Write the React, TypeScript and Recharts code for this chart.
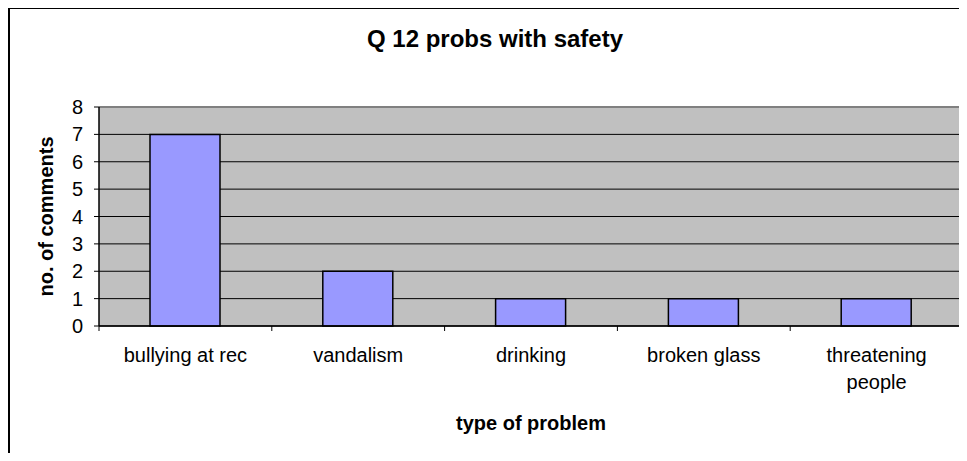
import React from "react";
import { BarChart, Bar, XAxis, YAxis, CartesianGrid } from "recharts";

const categories = ["bullying at rec", "vandalism", "drinking", "broken glass", "threatening people"];
const comments = [7, 2, 1, 1, 1];
const yTicks = [0, 1, 2, 3, 4, 5, 6, 7, 8];
const chartTitle = "Q 12 probs with safety";
const xTitle = "type of problem";
const yTitle = "no. of comments";

const data = categories.map((c, i) => ({ category: c, comments: comments[i] }));

const FONT = "'Liberation Sans', Arial, Helvetica, sans-serif";
const W = 959;
const H = 454;
const TICK_SIZE = 5;
const X_TICK_MARGIN = 17;
const MAX_CHARS = 16;

function wrapWords(label: string): string[] {
  const words = String(label).split(" ");
  const lines: string[] = [];
  let cur = "";
  for (const w of words) {
    const next = cur ? cur + " " + w : w;
    if (next.length > MAX_CHARS && cur) {
      lines.push(cur);
      cur = w;
    } else {
      cur = next;
    }
  }
  if (cur) lines.push(cur);
  return lines;
}

function CategoryTick(props: any) {
  const { x, y, payload, index, visibleTicksCount } = props;
  const n = visibleTicksCount || categories.length;
  const half =
    payload && typeof payload.offset === "number" && payload.offset > 0
      ? payload.offset
      : (props.width || 864) / n / 2;
  const axisY = y - TICK_SIZE - X_TICK_MARGIN;
  const lines = wrapWords(payload.value);
  return (
    <g>
      <line x1={x - half} x2={x - half} y1={axisY} y2={axisY + TICK_SIZE} stroke="#000" strokeWidth={1} />
      {index === n - 1 && (
        <line x1={x + half} x2={x + half} y1={axisY} y2={axisY + TICK_SIZE} stroke="#000" strokeWidth={1} />
      )}
      <text x={x} y={y} textAnchor="middle" fill="#000" fontSize={20} fontFamily={FONT}>
        {lines.map((ln, i) => (
          <tspan key={i} x={x} dy={i === 0 ? "0.71em" : 27}>
            {ln}
          </tspan>
        ))}
      </text>
    </g>
  );
}

function XTitle(props: any) {
  const vb = props.viewBox || {};
  return (
    <text
      x={vb.x + vb.width / 2}
      y={vb.y + 104}
      textAnchor="middle"
      fontFamily={FONT}
      fontSize={20}
      fontWeight="bold"
      fill="#000"
    >
      {xTitle}
    </text>
  );
}

function YTitle(props: any) {
  const vb = props.viewBox || {};
  const cx = vb.x + 45;
  const cy = vb.y + vb.height / 2;
  return (
    <text
      x={cx}
      y={cy}
      transform={`rotate(-90 ${cx} ${cy})`}
      textAnchor="middle"
      fontFamily={FONT}
      fontSize={20}
      fontWeight="bold"
      fill="#000"
    >
      {yTitle}
    </text>
  );
}

function GridLine(props: any) {
  const isTop = typeof props.y === "number" && Math.abs(props.y1 - props.y) < 0.5;
  return (
    <line
      x1={props.x1}
      x2={props.x2}
      y1={props.y1}
      y2={props.y2}
      stroke={isTop ? "#808080" : "#000"}
      strokeWidth={isTop ? 2 : 1}
    />
  );
}

function RightBorder(props: any) {
  if (props.index !== 0) return <g />;
  const rx = props.x + props.width;
  return <line x1={rx} x2={rx} y1={props.y} y2={props.y + props.height} stroke="#808080" strokeWidth={2} />;
}

export default function App() {
  return (
    <div style={{ position: "relative", marginTop: -1, width: W, height: 446, overflow: "hidden" }}>
      <BarChart
        width={W}
        height={H}
        data={data}
        margin={{ top: 100, right: 4, left: 0, bottom: 0 }}
      >
        <CartesianGrid vertical={false} fill="#C0C0C0" horizontal={GridLine} />
        <CartesianGrid horizontal={false} vertical={RightBorder} />
        <XAxis
          dataKey="category"
          height={135}
          interval={0}
          tickLine={false}
          tickSize={TICK_SIZE}
          tickMargin={X_TICK_MARGIN}
          axisLine={{ stroke: "#000", strokeWidth: 1.5 }}
          tick={<CategoryTick />}
          label={<XTitle />}
        />
        <YAxis
          width={91}
          domain={[0, 8]}
          ticks={yTicks}
          interval={0}
          tickSize={TICK_SIZE}
          tickMargin={11}
          axisLine={{ stroke: "#000", strokeWidth: 1.5 }}
          tickLine={{ stroke: "#000" }}
          tick={{ fill: "#000", fontSize: 20, fontFamily: FONT }}
          label={<YTitle />}
        />
        <Bar
          dataKey="comments"
          fill="#9999FF"
          stroke="#000"
          strokeWidth={1.5}
          barSize={70}
          isAnimationActive={false}
        />
      </BarChart>
      <svg
        width={W}
        height={H}
        style={{ position: "absolute", left: 0, top: 0, pointerEvents: "none" }}
      >
        <rect x={1} y={1} width={W + 20} height={H + 20} fill="none" stroke="#000" strokeWidth={2} />
        <text
          x={487}
          y={40}
          textAnchor="middle"
          fontFamily={FONT}
          fontSize={24}
          fontWeight="bold"
          fill="#000"
        >
          {chartTitle}
        </text>
      </svg>
    </div>
  );
}
